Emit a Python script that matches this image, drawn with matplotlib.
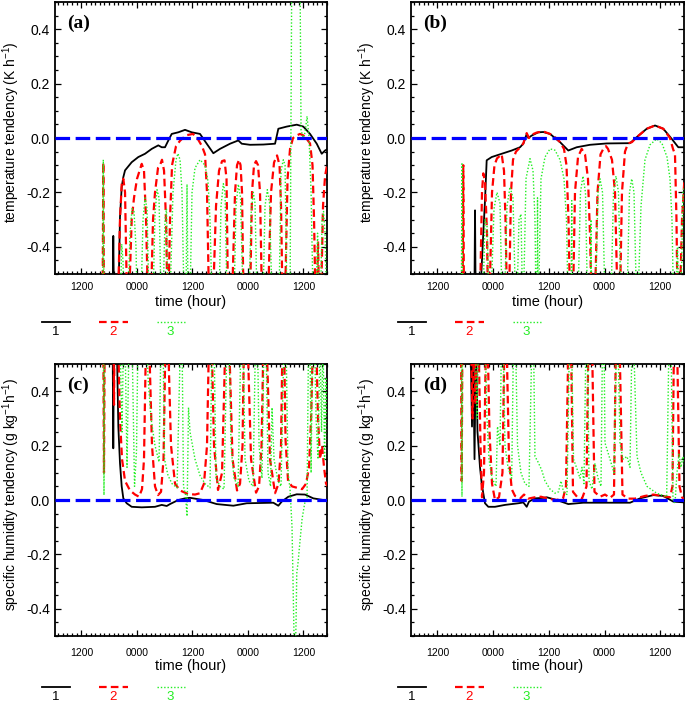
import matplotlib
matplotlib.use("Agg")
import matplotlib.pyplot as plt
from matplotlib.lines import Line2D
from matplotlib.ticker import MultipleLocator, FuncFormatter

# ---------------- data (time in hours, tendency values) ----------------
A_BLACK = [(18.75,-0.6),(18.9,-0.36),(19.05,-0.6),(20.0,-0.6),(20.35,-0.29),(20.72,-0.18),(21.07,-0.144),
           (21.44,-0.119),(22.88,-0.089),(24.31,-0.07),(25.76,-0.058),(27.21,-0.04),(28.63,-0.027),(29.37,-0.034),
           (30.08,-0.034),(30.8,-0.009),(31.53,0.015),(32.96,0.021),(34.41,0.03),(35.85,0.021),(37.65,0.015),
           (39.1,-0.021),(40.53,-0.056),(41.97,-0.04),(44.14,-0.021),(45.93,-0.009),(46.67,-0.021),(48.46,-0.025),
           (51.34,-0.024),(53.87,-0.021),(54.58,0.034),(56.4,0.042),(58.56,0.049),(59.98,0.042),(61.43,0.015),
           (62.88,-0.021),(63.96,-0.058),(64.68,-0.046),(65.3,-0.04)]
A_RED = [(16.6,-0.6),(16.74,-0.09),(16.88,-0.6),
         (19.92,-0.6),(20.35,-0.3),(20.72,-0.17),(21.07,-0.15),(21.44,-0.2),(21.87,-0.6),
         (22.3,-0.6),(22.88,-0.3),(23.38,-0.22),(24.03,-0.15),(25.05,-0.095),(25.54,-0.12),(25.98,-0.3),(26.41,-0.6),
         (27.05,-0.6),(27.49,-0.3),(27.92,-0.2),(28.57,-0.11),(29.0,-0.1),(29.43,-0.08),(29.87,-0.12),(30.3,-0.3),(30.62,-0.6),
         (30.84,-0.6),(31.16,-0.3),(31.6,-0.1),(32.46,-0.03),(33.33,-0.01),(34.62,0.01),(36.14,0.015),(37.22,-0.005),
         (38.08,-0.03),(38.73,-0.06),(39.16,-0.2),(39.6,-0.6),
         (40.46,-0.6),(41.11,-0.25),(41.76,-0.12),(42.41,-0.085),(42.95,-0.082),(43.38,-0.15),(43.7,-0.6),
         (44.57,-0.6),(45.22,-0.2),(45.65,-0.1),(46.08,-0.08),(46.41,-0.1),(46.73,-0.2),(47.05,-0.6),
         (48.46,-0.6),(48.89,-0.2),(49.32,-0.1),(49.76,-0.085),(50.19,-0.1),(50.62,-0.2),(51.05,-0.6),
         (52.35,-0.6),(53.0,-0.2),(53.65,-0.09),(54.3,-0.064),(54.84,-0.1),(55.16,-0.25),(55.49,-0.6),
         (56.03,-0.6),(56.57,-0.15),(57.11,-0.04),(57.76,0.0),(58.62,0.01),(59.27,0.015),(59.92,0.01),(60.57,0.0),
         (61.43,-0.02),(61.97,-0.1),(62.3,-0.3),(62.62,-0.6),
         (62.95,-0.6),(63.16,-0.38),(63.38,-0.6),
         (63.81,-0.6),(64.24,-0.25),(64.68,-0.14),(65.11,-0.1),(65.3,-0.1)]
A_GREEN = [(16.6,-0.6),(16.74,-0.08),(16.88,-0.6),
           (20.46,-0.6),(20.72,-0.39),(21.0,-0.45),(21.22,-0.6),
           (22.08,-0.6),(22.52,-0.35),(22.95,-0.26),(23.38,-0.27),(23.81,-0.4),(24.03,-0.6),
           (24.89,-0.6),(25.33,-0.3),(25.76,-0.22),(26.19,-0.26),(26.62,-0.6),
           (27.49,-0.6),(27.92,-0.28),(28.35,-0.19),(28.79,-0.22),(29.22,-0.6),
           (29.65,-0.6),(30.08,-0.3),(30.4,-0.26),(30.7,-0.6),
           (31.16,-0.6),(31.81,-0.2),(32.46,-0.08),(32.89,-0.057),(33.33,-0.08),(33.76,-0.2),(34.19,-0.6),
           (34.62,-0.6),(34.84,-0.17),(35.06,-0.6),
           (35.49,-0.6),(35.92,-0.2),(36.57,-0.11),(37.65,-0.08),(38.73,-0.1),(39.38,-0.16),(39.81,-0.3),(40.24,-0.6),
           (41.76,-0.6),(42.19,-0.25),(42.69,-0.168),(43.06,-0.2),(43.49,-0.6),
           (45.0,-0.6),(45.43,-0.25),(45.93,-0.17),(46.41,-0.22),(46.95,-0.6),
           (48.24,-0.6),(48.68,-0.28),(49.17,-0.2),(49.54,-0.24),(49.97,-0.6),
           (51.27,-0.6),(51.7,-0.25),(52.2,-0.19),(52.68,-0.24),(53.22,-0.6),
           (54.73,-0.6),(55.16,-0.12),(55.66,-0.08),(56.03,-0.1),(56.46,-0.6),
           (57.11,-0.6),(57.48,0.6),(59.27,0.6),(59.49,0.03),(59.92,0.0),(60.36,0.02),(60.79,0.08),(61.22,0.0),
           (61.66,-0.2),(62.09,-0.6),
           (62.74,-0.6),(63.06,-0.35),(63.38,-0.6),
           (63.7,-0.6),(64.03,-0.3),(64.35,-0.27),(64.68,-0.35),(65.0,-0.6)]

B_BLACK = [(19.95,-0.6),(20.09,-0.266),(20.23,-0.6),(21.16,-0.6),(21.87,-0.35),(22.24,-0.23),(22.6,-0.082),
           (23.68,-0.07),(25.83,-0.058),(27.99,-0.046),(29.78,-0.034),(30.49,-0.021),(31.22,0.015),(31.56,0.0),
           (32.3,0.009),(33.72,0.021),(34.8,0.022),(36.24,0.015),(38.39,-0.015),(40.18,-0.046),(41.99,-0.034),
           (44.85,-0.025),(48.45,-0.02),(53.47,-0.019),(54.91,0.003),(57.07,0.034),(58.86,0.046),(60.64,0.034),
           (62.45,-0.003),(63.87,-0.034),(65.31,-0.034)]
B_RED = [(17.42,-0.6),(17.56,-0.1),(17.7,-0.6),
         (21.16,-0.6),(21.59,-0.2),(21.87,-0.13),(22.24,-0.16),(22.67,-0.35),(22.88,-0.6),
         (23.21,-0.6),(23.75,-0.2),(24.28,-0.1),(24.82,-0.075),(25.83,-0.06),(26.33,-0.12),(26.65,-0.3),(26.98,-0.6),
         (27.41,-0.6),(27.84,-0.2),(28.27,-0.08),(28.91,-0.05),(29.78,-0.035),(30.49,-0.02),(31.22,0.018),(31.71,0.0),
         (32.3,0.012),(33.37,0.02),(34.8,0.024),(36.24,0.015),(37.53,0.0),(38.39,-0.015),(39.25,-0.04),(39.79,-0.1),
         (40.22,-0.3),(40.55,-0.6),
         (41.19,-0.6),(41.62,-0.2),(42.27,-0.07),(43.06,-0.04),(43.78,-0.06),(44.42,-0.15),(44.85,-0.35),(45.18,-0.6),
         (45.93,-0.6),(46.47,-0.2),(47.12,-0.06),(47.87,-0.035),(48.3,-0.03),(48.73,-0.04),(49.59,-0.08),(50.24,-0.2),(50.78,-0.6),
         (51.31,-0.6),(51.74,-0.2),(52.39,-0.05),(53.04,-0.02),(53.9,-0.015),(54.91,0.003),(57.07,0.034),(58.86,0.046),
         (60.64,0.034),(62.08,0.0),(62.73,-0.04),(63.16,-0.06),(63.48,-0.3),(63.7,-0.6),
         (64.24,-0.6),(64.67,-0.3),(65.2,-0.15)]
B_GREEN = [(17.14,-0.6),(17.28,-0.095),(17.42,-0.6),
           (21.8,-0.6),(22.24,-0.3),(22.67,-0.32),(23.1,-0.6),
           (23.53,-0.6),(24.18,-0.26),(24.82,-0.2),(25.47,-0.24),(25.9,-0.6),
           (26.44,-0.6),(26.98,-0.25),(27.62,-0.18),(28.27,-0.22),(28.81,-0.6),
           (29.13,-0.6),(29.56,-0.3),(29.99,-0.28),(30.32,-0.6),
           (30.53,-0.6),(31.07,-0.15),(31.93,-0.076),(32.58,-0.12),(33.0,-0.3),(33.22,-0.6),
           (33.44,-0.6),(33.55,-0.22),(33.66,-0.6),
           (33.76,-0.6),(34.3,-0.15),(35.16,-0.07),(36.24,-0.04),(37.32,-0.045),(38.39,-0.08),(39.25,-0.15),(39.79,-0.3),(40.12,-0.6),
           (40.8,-0.6),(40.91,-0.23),(41.02,-0.6),
           (42.27,-0.6),(42.8,-0.2),(43.34,-0.14),(43.88,-0.2),(44.31,-0.6),
           (44.96,-0.6),(45.07,-0.3),(45.18,-0.6),
           (46.04,-0.6),(46.58,-0.2),(47.01,-0.15),(47.55,-0.2),(48.08,-0.6),
           (49.38,-0.6),(49.91,-0.2),(50.45,-0.14),(50.99,-0.2),(51.53,-0.6),
           (52.82,-0.6),(53.36,-0.2),(53.84,-0.15),(54.33,-0.2),(54.87,-0.6),
           (55.19,-0.6),(55.84,-0.25),(56.7,-0.08),(57.78,-0.025),(59.22,-0.003),(60.36,-0.02),(61.44,-0.07),
           (62.08,-0.15),(62.51,-0.3),(62.84,-0.6),
           (63.38,-0.6),(63.7,-0.4),(64.02,-0.6),
           (64.45,-0.6),(64.88,-0.2),(65.31,-0.17)]

C_BLACK = [(18.75,0.6),(18.9,0.19),(19.05,0.6),(19.64,0.6),(19.99,0.27),(20.35,0.135),(20.72,0.05),(21.07,0.006),
           (21.8,-0.012),(22.88,-0.025),(25.05,-0.027),(27.92,-0.025),(29.37,-0.018),(30.45,-0.022),(31.16,-0.015),
           (32.96,0.0),(34.41,0.006),(35.49,0.008),(38.36,0.0),(41.26,-0.015),(44.85,-0.021),(47.75,-0.012),
           (53.5,-0.01),(54.58,-0.021),(55.31,-0.006),(56.74,0.012),(58.56,0.021),(60.35,0.02),(62.15,0.006),(65.39,-0.003)]
C_RED = [(16.75,0.6),(16.89,0.1),(17.03,0.6),
         (18.96,0.6),(19.06,0.35),(19.16,0.6),
         (19.92,0.6),(20.35,0.3),(20.79,0.15),(21.44,0.07),(22.52,0.035),(23.6,0.02),(24.46,0.012),(25.11,0.04),(25.54,0.15),(25.98,0.6),
         (26.62,0.6),(27.27,0.2),(27.92,0.05),(28.57,0.018),(29.22,0.03),(29.76,0.15),(30.19,0.6),
         (30.73,0.6),(31.38,0.2),(32.25,0.06),(33.33,0.035),(35.06,0.022),(36.57,0.02),(37.65,0.025),(38.51,0.06),(39.16,0.2),(39.6,0.6),
         (40.14,0.6),(40.68,0.2),(41.54,0.037),(42.41,0.1),(43.16,0.6),
         (43.92,0.6),(44.68,0.15),(45.65,0.035),(46.3,0.06),(46.84,0.2),(47.16,0.6),
         (47.92,0.6),(48.68,0.15),(49.76,0.027),(50.41,0.05),(50.95,0.2),(51.38,0.6),
         (52.03,0.6),(52.78,0.15),(53.87,0.025),(54.62,0.06),(55.16,0.2),(55.49,0.6),
         (55.81,0.6),(56.14,0.22),(56.68,0.07),(57.54,0.05),(58.62,0.045),(59.71,0.04),(60.57,0.06),(61.22,0.12),(61.66,0.3),(62.09,0.6),
         (62.74,0.6),(63.16,0.3),(63.59,0.15),(64.03,0.2),(64.46,0.12),(64.89,0.06),(65.3,0.05)]
C_GREEN = [(16.75,0.6),(16.89,0.018),(17.03,0.6),
           (20.35,0.6),(20.79,0.25),(21.11,0.6),
           (21.44,0.6),(21.87,0.12),(22.3,0.6),
           (22.95,0.6),(23.49,0.05),(23.92,0.18),(24.24,0.6),
           (26.08,0.6),(26.41,0.45),(27.06,0.3),(27.92,0.2),(28.79,0.14),(29.22,0.6),(29.65,0.6),(29.98,0.15),
           (30.73,0.09),(31.6,0.06),(32.68,0.045),(33.43,0.6),(33.76,0.6),(34.08,0.05),(34.51,0.02),(34.84,-0.06),
           (35.16,0.34),(35.49,0.25),(36.57,0.15),(37.65,0.09),(38.73,0.06),(39.81,0.045),(40.24,0.6),(40.68,0.6),
           (41.11,0.08),(41.97,0.05),(42.84,0.04),(43.49,0.6),(43.92,0.6),(44.35,0.2),(45.0,0.08),(45.87,0.05),
           (46.51,0.6),(46.95,0.6),(47.38,0.15),(48.24,0.07),(49.11,0.05),(49.65,0.6),(50.08,0.6),(50.41,0.2),
           (51.05,0.08),(51.49,0.6),(51.92,0.6),(52.35,0.1),(52.89,0.05),(53.22,0.34),(53.65,0.15),(54.51,0.07),
           (55.16,0.05),(55.81,0.6),(56.24,0.6),(56.68,0.1),(57.11,0.04),(57.54,-0.1),(57.97,-0.5),(58.19,-0.6),
           (58.41,-0.45),(58.56,-0.27),(58.84,-0.23),(59.27,-0.15),(59.71,-0.07),(60.03,-0.037),(60.35,-0.006),
           (60.79,0.01),(61.11,0.6),(61.43,0.6),(61.66,0.1),(61.98,0.6),(62.41,0.6),(62.74,0.3),(63.16,0.15),
           (63.59,0.6),(63.92,0.25),(64.24,0.6),(64.57,0.15),(64.89,0.45),(65.22,0.2)]

D_BLACK = [(19.11,0.6),(19.44,0.27),(19.66,0.6),(19.98,0.15),(20.3,0.6),(20.62,0.25),(20.84,0.2),(21.16,0.12),
           (21.53,0.06),(21.87,0.025),(22.24,-0.012),(22.95,-0.025),(24.39,-0.025),(26.55,-0.018),(29.41,-0.012),
           (30.49,-0.009),(31.22,-0.025),(31.71,-0.006),(33.0,0.006),(34.8,0.008),(35.53,0.01),(37.68,0.0),
           (40.18,-0.015),(43.41,-0.01),(48.45,-0.01),(53.47,-0.01),(55.62,0.006),(58.49,0.018),(60.64,0.015),
           (62.79,-0.006),(65.31,-0.009)]
D_RED = [(17.08,0.6),(17.22,0.07),(17.36,0.6),
         (19.22,0.6),(19.55,0.3),(19.87,0.6),(20.2,0.35),(20.52,0.6),
         (20.84,0.6),(21.27,0.2),(21.59,0.01),(22.02,0.1),(22.45,0.6),
         (22.78,0.6),(23.21,0.25),(23.75,0.06),(24.39,0.0),(25.25,0.01),(26.0,0.1),(26.44,0.6),
         (26.87,0.6),(27.41,0.15),(27.99,0.04),(28.7,0.015),(29.78,0.005),(30.64,0.02),(31.5,0.005),(33.0,0.01),
         (34.3,0.012),(35.81,0.005),(37.53,0.0),(39.04,0.005),(39.68,0.05),(40.22,0.6),(40.76,0.6),(41.19,0.03),
         (42.05,0.012),(43.13,0.005),(44.1,0.05),(44.53,0.6),(45.28,0.6),(45.82,0.03),(47.01,0.012),(48.08,0.02),
         (49.16,0.008),(50.02,0.02),(50.45,0.6),(51.2,0.6),(51.85,0.02),(53.04,0.005),(54.55,0.005),(56.7,0.015),
         (58.49,0.02),(60.36,0.015),(62.08,0.01),(62.62,0.05),(62.95,0.6),(63.59,0.6),(64.13,0.05),(64.67,0.01),(65.31,0.0)]
D_GREEN = [(17.14,0.6),(17.28,0.012),(17.42,0.6),
           (20.09,0.6),(20.52,0.3),(20.84,0.6),
           (22.24,0.6),(22.67,0.3),(23.1,0.15),(23.75,0.08),(24.61,0.05),(24.93,0.27),(25.47,0.2),(25.8,0.6),
           (26.11,0.6),(26.55,0.2),(27.19,0.12),(27.99,0.08),(28.38,0.6),(28.81,0.6),(29.24,0.2),(29.99,0.1),
           (30.85,0.06),(31.71,0.05),(32.36,0.6),(32.68,0.6),(33.0,0.16),(33.65,0.14),(34.45,0.11),(35.16,0.07),
           (36.24,0.04),(37.32,0.025),(38.07,0.03),(38.61,0.07),(39.15,0.03),(39.9,0.02),(40.44,0.6),(40.87,0.6),
           (41.3,0.15),(41.94,0.12),(42.7,0.08),(43.13,0.12),(43.56,0.06),(43.99,0.6),(44.31,0.6),(44.64,0.07),
           (45.28,0.04),(45.93,0.135),(46.58,0.08),(47.22,0.05),(47.55,0.6),(47.87,0.6),(48.08,0.21),(49.16,0.15),
           (50.02,0.1),(50.56,0.6),(50.88,0.6),(51.31,0.21),(51.96,0.15),(52.82,0.16),(53.47,0.12),(53.9,0.6),
           (54.22,0.6),(54.98,0.16),(55.84,0.1),(57.13,0.05),(59.22,0.025),(61.37,0.012),(61.87,0.6),(62.3,0.6),
           (62.73,0.0),(63.16,-0.012),(63.59,0.1),(64.02,0.17),(64.45,0.12),(64.88,0.16),(65.31,0.12)]

X_RANGE = (6.3, 65.1)
Y_RANGE = (-0.5, 0.5)
TAGS = ["(a)", "(b)", "(c)", "(d)"]
TEMP_LABEL = "temperature tendency (K h$^{-1}$)"
HUM_LABEL = "specific humidity tendency (g kg$^{-1}$h$^{-1}$)"
XLABEL = "time (hour)"
LEGEND_LABELS = ["1", "2", "3"]

# ---------------- style ----------------
plt.rcParams['font.family'] = ['Liberation Sans', 'DejaVu Sans']
plt.rcParams['axes.unicode_minus'] = False
plt.rcParams['mathtext.fontset'] = 'custom'
plt.rcParams['mathtext.rm'] = 'Liberation Sans'
plt.rcParams['mathtext.default'] = 'regular'
plt.rcParams['lines.scale_dashes'] = False

BLACK = '#000000'
RED = '#ff0000'
GREEN = '#22ee22'
BLUE = '#0000ff'
STYLES = [dict(color=BLACK, lw=1.3, linestyle='-'),
          dict(color=RED, lw=1.6, dashes=(5.5, 3.0)),
          dict(color=GREEN, lw=1.0, dashes=(1.0, 1.4))]

W, H = 685, 705
fig = plt.figure(figsize=(W / 100, H / 100), dpi=100)


def frac_rect(l, t, r, b):
    return [l / W, 1 - b / H, (r - l) / W, (b - t) / H]


panels = [
    ((55, 2, 327, 274), (A_BLACK, A_RED, A_GREEN), TEMP_LABEL, 0),
    ((411, 2, 684, 274), (B_BLACK, B_RED, B_GREEN), TEMP_LABEL, 0),
    ((55, 364, 327, 636), (C_BLACK, C_RED, C_GREEN), HUM_LABEL, 1),
    ((411, 364, 684, 636), (D_BLACK, D_RED, D_GREEN), HUM_LABEL, 1),
]

for i, (r, series, ylab, row) in enumerate(panels):
    l, t, rr, b = r
    ax = fig.add_axes(frac_rect(l, t, rr, b))
    axw, axh = rr - l, b - t
    for s, st in zip(series, STYLES):
        xs = [p[0] for p in s]
        ys = [p[1] for p in s]
        ax.plot(xs, ys, zorder=3, **st)
    ax.axhline(0.0, color=BLUE, lw=2.3, dashes=(10.5, 4.0), zorder=5)
    ax.set_xlim(*X_RANGE)
    ax.set_ylim(*Y_RANGE)
    ax.xaxis.set_major_locator(MultipleLocator(12))
    ax.xaxis.set_minor_locator(MultipleLocator(1))
    ax.yaxis.set_major_locator(MultipleLocator(0.2))
    ax.yaxis.set_minor_locator(MultipleLocator(0.05))
    ax.xaxis.set_major_formatter(FuncFormatter(lambda x, p: f"{int(round(x)) % 24:02d}00"))
    ax.yaxis.set_major_formatter(FuncFormatter(lambda y, p: f"{y:.1f}"))
    ax.tick_params(which='both', direction='in', top=True, right=True, width=0.9)
    ax.tick_params(which='major', length=4.0)
    ax.tick_params(which='minor', length=2.2)
    ax.tick_params(axis='y', labelsize=10, pad=3.5)
    ax.tick_params(axis='x', labelsize=7.5, pad=6 if row == 0 else 8.5)
    for sp in ax.spines.values():
        sp.set_linewidth(1.3)
    ax.set_ylabel(ylab, fontsize=10)
    ax.yaxis.set_label_coords(-33 / axw, 0.52)
    ax.set_xlabel(XLABEL, fontsize=10.5)
    ax.xaxis.set_label_coords(0.5, (-21 if row == 0 else -23) / axh)
    ax.text(12 / axw, 1 - 21.5 / axh, TAGS[i], transform=ax.transAxes, ha='left', va='center',
            fontsize=14, fontweight='bold', family='Liberation Serif')

    # legend below the panel
    ly = b + (48.5 if row == 0 else 51)
    ty = b + (58.5 if row == 0 else 61.5)
    offs = [(-13, 15, 1), (44, 73, 58), (102, 130, 115)]
    for (x0, x1, xc), st, lab in zip(offs, STYLES, LEGEND_LABELS):
        fig.add_artist(Line2D([(l + x0) / W, (l + x1) / W], [1 - ly / H, 1 - ly / H],
                              transform=fig.transFigure, **st))
        fig.text((l + xc) / W, 1 - ty / H, lab, ha='center', va='center', fontsize=9.5, color=st['color'])

fig.savefig("out.png", dpi=100)
